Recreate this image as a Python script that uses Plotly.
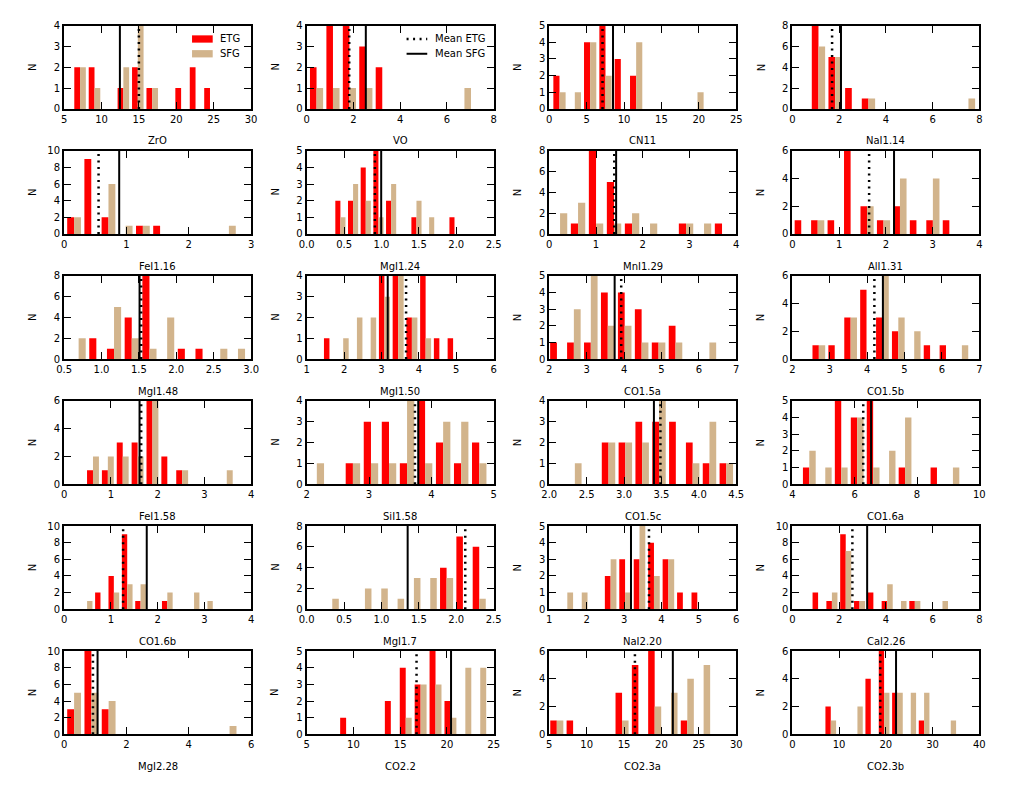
import plotly.graph_objects as go

# ---------------- data ----------------
NAMES = ["ZrO", "VO", "CN11", "NaI1.14",
         "FeI1.16", "MgI1.24", "MnI1.29", "AlI1.31",
         "MgI1.48", "MgI1.50", "CO1.5a", "CO1.5b",
         "FeI1.58", "SiI1.58", "CO1.5c", "CO1.6a",
         "CO1.6b", "MgI1.7", "NaI2.20", "CaI2.26",
         "MgI2.28", "CO2.2", "CO2.3a", "CO2.3b"]

SERIES = ["ETG", "SFG"]
MEAN_LABELS = ["Mean ETG", "Mean SFG"]

# histogram bins: 10 equal bins starting at BIN_START with width BIN_WIDTH
BIN_START = [6.17, 0.07, 0.34, 0.76,
             0.022, 0.366, 0.038, 0.014,
             0.576, 1.425, 1.978, 2.4955,
             0.459, 2.018, 2.2295, 4.288,
             0.349, 0.233, 1.289, 0.805,
             0.044, 8.42, 4.916, 6.79]
BIN_WIDTH = [1.93, 0.703, 2.05, 0.713,
             0.276, 0.1695, 0.385, 0.352,
             0.2367, 0.3674, 0.453, 0.425,
             0.318, 0.2895, 0.225, 0.512,
             0.286, 0.2183, 0.3862, 0.5913,
             0.5543, 1.594, 2.181, 2.852]

ETG_COUNTS = [
    [2, 2, 0, 1, 2, 1, 0, 1, 2, 1],
    [2, 4, 4, 3, 2, 0, 0, 0, 0, 0],
    [2, 0, 4, 5, 3, 2, 0, 0, 0, 0],
    [8, 5, 2, 1, 0, 0, 0, 0, 0, 0],
    [2, 9, 2, 0, 1, 1, 0, 0, 0, 0],
    [2, 2, 4, 5, 2, 0, 1, 0, 0, 1],
    [0, 1, 8, 5, 1, 0, 0, 1, 0, 1],
    [1, 1, 1, 6, 2, 1, 2, 1, 1, 1],
    [0, 2, 1, 4, 8, 0, 1, 1, 0, 0],
    [1, 0, 0, 0, 4, 4, 2, 4, 1, 1],
    [1, 1, 1, 4, 4, 3, 1, 2, 0, 0],
    [1, 1, 3, 5, 3, 2, 0, 1, 1, 0],
    [1, 1, 3, 3, 6, 2, 1, 0, 0, 0],
    [0, 0, 1, 3, 3, 1, 4, 2, 1, 2],
    [0, 0, 2, 2, 3, 3, 3, 2, 1, 1],
    [1, 0, 5, 4, 5, 0, 1, 0, 1, 0],
    [0, 2, 4, 9, 1, 0, 1, 0, 0, 0],
    [0, 0, 0, 0, 0, 0, 0, 4, 7, 6],
    [0, 0, 0, 2, 3, 3, 4, 3, 1, 1],
    [2, 1, 9, 1, 2, 1, 0, 1, 0, 0],
    [3, 10, 3, 0, 0, 0, 0, 0, 0, 0],
    [1, 0, 0, 2, 4, 3, 5, 2, 0, 0],
    [1, 1, 0, 0, 3, 5, 6, 0, 1, 0],
    [2, 0, 0, 4, 6, 3, 0, 1, 0, 0],
]
SFG_COUNTS = [
    [2, 1, 0, 2, 4, 1, 0, 0, 0, 0],
    [1, 1, 1, 1, 0, 0, 0, 0, 0, 1],
    [1, 1, 4, 2, 0, 4, 0, 0, 0, 1],
    [6, 5, 0, 1, 0, 0, 0, 0, 0, 1],
    [2, 0, 6, 1, 1, 0, 0, 0, 0, 1],
    [1, 3, 2, 1, 3, 0, 2, 1, 0, 0],
    [2, 3, 1, 1, 2, 1, 0, 1, 1, 0],
    [0, 1, 0, 0, 2, 1, 4, 0, 4, 0],
    [2, 0, 5, 2, 1, 4, 0, 0, 1, 1],
    [0, 1, 2, 2, 3, 4, 2, 1, 0, 0],
    [0, 3, 5, 2, 2, 1, 1, 1, 0, 1],
    [1, 0, 3, 0, 6, 3, 2, 0, 0, 1],
    [2, 2, 2, 2, 6, 0, 1, 0, 0, 1],
    [1, 0, 1, 1, 1, 4, 1, 3, 3, 1],
    [1, 0, 2, 2, 2, 4, 0, 1, 3, 1],
    [2, 1, 1, 4, 1, 2, 4, 0, 0, 1],
    [1, 0, 2, 3, 3, 0, 2, 0, 2, 1],
    [1, 0, 2, 2, 1, 3, 3, 3, 0, 1],
    [1, 1, 0, 3, 1, 5, 2, 3, 0, 0],
    [0, 2, 7, 1, 0, 3, 1, 1, 0, 1],
    [5, 5, 4, 0, 0, 0, 0, 0, 0, 1],
    [0, 0, 0, 0, 1, 3, 3, 1, 4, 4],
    [1, 0, 0, 0, 1, 0, 2, 3, 4, 5],
    [1, 0, 2, 0, 3, 3, 3, 3, 0, 1],
]

ETG_MEAN = [15.0, 1.82, 7.12, 1.70,
            0.553, 0.912, 1.39, 1.642,
            1.53, 3.658, 3.923, 4.193,
            1.649, 3.737, 3.486, 6.274,
            1.263, 2.12, 3.666, 2.568,
            0.926, 16.75, 16.45, 18.8]
SFG_MEAN = [12.46, 2.53, 8.52, 2.08,
            0.884, 0.996, 1.43, 2.175,
            1.509, 3.167, 3.748, 4.421,
            1.614, 3.79, 3.399, 6.526,
            1.768, 1.35, 3.185, 3.2,
            1.074, 20.44, 21.52, 22.18]

X_TICK_LABELS = [
    ["5", "10", "15", "20", "25", "30"],
    ["0", "2", "4", "6", "8"],
    ["0", "5", "10", "15", "20", "25"],
    ["0", "2", "4", "6", "8"],
    ["0", "1", "2", "3"],
    ["0.0", "0.5", "1.0", "1.5", "2.0", "2.5"],
    ["0", "1", "2", "3", "4"],
    ["0", "1", "2", "3", "4"],
    ["0.5", "1.0", "1.5", "2.0", "2.5", "3.0"],
    ["1", "2", "3", "4", "5", "6"],
    ["2", "3", "4", "5", "6", "7"],
    ["2", "3", "4", "5", "6", "7"],
    ["0", "1", "2", "3", "4"],
    ["2", "3", "4", "5"],
    ["2.0", "2.5", "3.0", "3.5", "4.0", "4.5"],
    ["4", "6", "8", "10"],
    ["0", "1", "2", "3", "4"],
    ["0.0", "0.5", "1.0", "1.5", "2.0", "2.5"],
    ["1", "2", "3", "4", "5", "6"],
    ["0", "2", "4", "6", "8"],
    ["0", "2", "4", "6"],
    ["5", "10", "15", "20", "25"],
    ["5", "10", "15", "20", "25", "30"],
    ["0", "10", "20", "30", "40"],
]
Y_TICK_LABELS = [
    ["0", "1", "2", "3", "4"], ["0", "1", "2", "3", "4"],
    ["0", "1", "2", "3", "4", "5"], ["0", "2", "4", "6", "8"],
    ["0", "2", "4", "6", "8", "10"], ["0", "1", "2", "3", "4", "5"],
    ["0", "2", "4", "6", "8"], ["0", "2", "4", "6"],
    ["0", "2", "4", "6", "8"], ["0", "1", "2", "3", "4"],
    ["0", "1", "2", "3", "4", "5"], ["0", "2", "4", "6"],
    ["0", "2", "4", "6"], ["0", "1", "2", "3", "4"],
    ["0", "1", "2", "3", "4"], ["0", "1", "2", "3", "4", "5"],
    ["0", "2", "4", "6", "8", "10"], ["0", "2", "4", "6", "8"],
    ["0", "1", "2", "3", "4", "5"], ["0", "2", "4", "6", "8", "10"],
    ["0", "2", "4", "6", "8", "10"], ["0", "1", "2", "3", "4", "5"],
    ["0", "2", "4", "6"], ["0", "2", "4", "6"],
]

# ---------------- layout (pixels) ----------------
W, H = 1009, 794
COL_LEFT = [57, 303.5, 550, 797]
PANEL_W = 190
ROW_TOP = [20 + 127 * r for r in range(6)]
PANEL_H = 84.5
FONT = "DejaVu Sans"
RED = "#FF0000"
TAN = "#D2B48C"
DOT = "2px,4.5px"


def px(x):
    return x / W


def py(y):
    return 1 - y / H


fig = go.Figure()
annotations = []
shapes = []

axis_common = dict(showline=True, linewidth=2, linecolor="black",
                   mirror="allticks", ticks="inside", ticklen=7, tickwidth=1.3,
                   tickcolor="black", showgrid=False, zeroline=False,
                   tickfont=dict(family=FONT, size=10, color="black"))

for i, name in enumerate(NAMES):
    r, c = divmod(i, 4)
    suf = "" if i == 0 else str(i + 1)
    xa, ya = "x" + suf, "y" + suf
    w = BIN_WIDTH[i]
    centers = [BIN_START[i] + w * (k + 0.5) for k in range(10)]
    ytv = [float(s) for s in Y_TICK_LABELS[i]]
    ymax = ytv[-1]
    xtv = [float(s) for s in X_TICK_LABELS[i]]

    fig.add_trace(go.Bar(x=centers, y=ETG_COUNTS[i], width=0.4 * w, offset=-0.4 * w,
                         marker=dict(color=RED, line=dict(width=0)), name=SERIES[0],
                         showlegend=False, xaxis=xa, yaxis=ya, hoverinfo="skip"))
    fig.add_trace(go.Bar(x=centers, y=SFG_COUNTS[i], width=0.4 * w, offset=0,
                         marker=dict(color=TAN, line=dict(width=0)), name=SERIES[1],
                         showlegend=False, xaxis=xa, yaxis=ya, hoverinfo="skip"))
    fig.add_trace(go.Scatter(x=[ETG_MEAN[i], ETG_MEAN[i]], y=[0, ymax], mode="lines",
                             line=dict(color="black", width=2.5, dash=DOT),
                             name=MEAN_LABELS[0], showlegend=False,
                             xaxis=xa, yaxis=ya, hoverinfo="skip"))
    fig.add_trace(go.Scatter(x=[SFG_MEAN[i], SFG_MEAN[i]], y=[0, ymax], mode="lines",
                             line=dict(color="black", width=2),
                             name=MEAN_LABELS[1], showlegend=False,
                             xaxis=xa, yaxis=ya, hoverinfo="skip"))

    left = COL_LEFT[c]
    top = ROW_TOP[r]
    fig.layout["xaxis" + suf] = dict(domain=[px(left), px(left + PANEL_W)], anchor=ya,
                                     range=[xtv[0], xtv[-1]], tickmode="array",
                                     tickvals=xtv, ticktext=X_TICK_LABELS[i],
                                     **axis_common)
    fig.layout["yaxis" + suf] = dict(domain=[py(top + PANEL_H), py(top)], anchor=xa,
                                     range=[0, ymax], tickmode="array",
                                     tickvals=ytv, ticktext=Y_TICK_LABELS[i],
                                     **axis_common)
    annotations.append(dict(text=name, xref="paper", yref="paper",
                            x=px(left + PANEL_W / 2), y=py(top + PANEL_H + 32.5),
                            xanchor="center", yanchor="middle", showarrow=False,
                            font=dict(family=FONT, size=10, color="black")))
    annotations.append(dict(text="N", xref="paper", yref="paper",
                            x=px(left - 32), y=py(top + PANEL_H / 2),
                            xanchor="center", yanchor="middle", showarrow=False,
                            textangle=-90,
                            font=dict(family=FONT, size=10, color="black")))

# ---------------- legends (drawn like matplotlib's, frameless) ----------------
LEG_ROWS = [33.5, 48.5]
# panel 1: colour patches
for k, (label, col) in enumerate(zip(SERIES, [RED, TAN])):
    yc = LEG_ROWS[k]
    shapes.append(dict(type="rect", xref="paper", yref="paper",
                       x0=px(187), x1=px(208), y0=py(yc + 3.7), y1=py(yc - 3.7),
                       fillcolor=col, line=dict(width=0)))
    annotations.append(dict(text=label, xref="paper", yref="paper",
                            x=px(213), y=py(yc), xanchor="left", yanchor="middle",
                            showarrow=False,
                            font=dict(family=FONT, size=10, color="black")))
# panel 2: mean line samples
for k, (label, dash, lw) in enumerate(zip(MEAN_LABELS, [DOT, "solid"], [2.5, 2])):
    yc = LEG_ROWS[k]
    shapes.append(dict(type="line", xref="paper", yref="paper",
                       x0=px(405), x1=px(426), y0=py(yc), y1=py(yc),
                       line=dict(color="black", width=lw, dash=dash)))
    annotations.append(dict(text=label, xref="paper", yref="paper",
                            x=px(432), y=py(yc), xanchor="left", yanchor="middle",
                            showarrow=False,
                            font=dict(family=FONT, size=10, color="black")))

fig.update_layout(
    width=W, height=H, autosize=False,
    margin=dict(l=0, r=0, t=0, b=0),
    paper_bgcolor="white", plot_bgcolor="white",
    barmode="overlay", showlegend=False,
    font=dict(family=FONT, size=10, color="black"),
    annotations=annotations, shapes=shapes,
)

fig.write_html("out.html")
